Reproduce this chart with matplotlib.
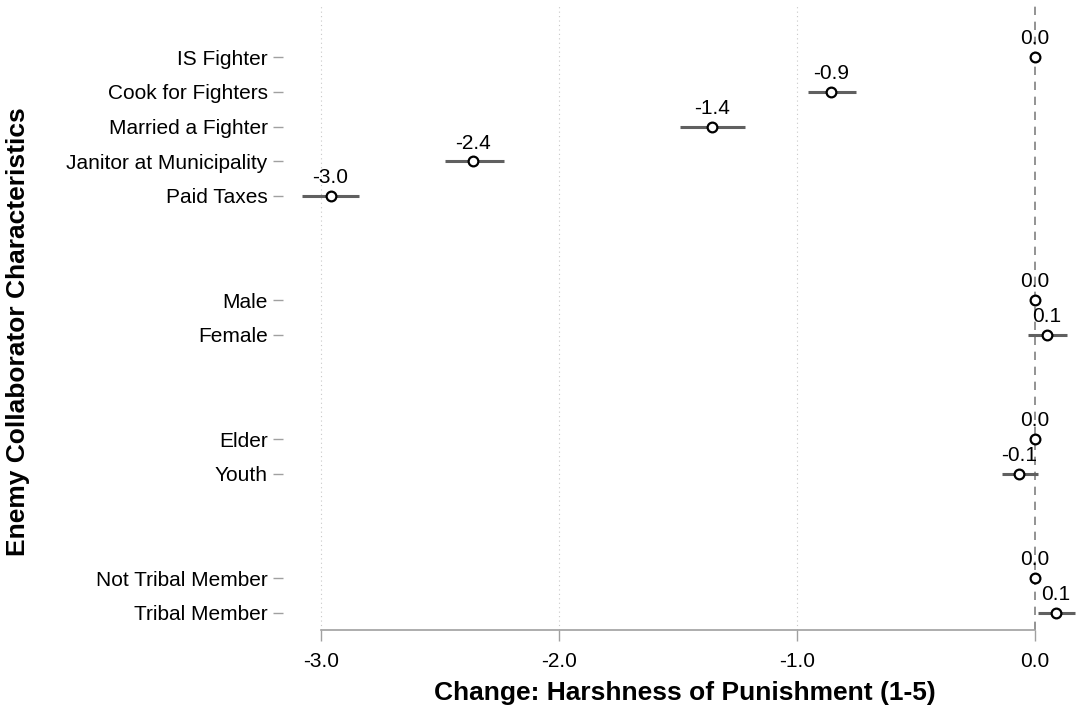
import matplotlib
matplotlib.use("Agg")
import matplotlib.pyplot as plt
import numpy as np

plt.rcParams['font.family'] = ['Liberation Sans', 'DejaVu Sans']

labels = ["IS Fighter", "Cook for Fighters", "Married a Fighter", "Janitor at Municipality",
          "Paid Taxes", "Male", "Female", "Elder", "Youth", "Not Tribal Member", "Tribal Member"]
positions = [0, 1, 2, 3, 4, 7, 8, 11, 12, 15, 16]
estimates = [0.0, -0.855, -1.355, -2.36, -2.96, 0.0, 0.05, 0.0, -0.067, 0.0, 0.088]
ci_low = [np.nan, -0.955, -1.49, -2.48, -3.08, np.nan, -0.03, np.nan, -0.14, np.nan, 0.013]
ci_high = [np.nan, -0.75, -1.22, -2.23, -2.84, np.nan, 0.135, np.nan, 0.013, np.nan, 0.17]
value_labels = ["0.0", "-0.9", "-1.4", "-2.4", "-3.0", "0.0", "0.1", "0.0", "-0.1", "0.0", "0.1"]
xticks = [-3.0, -2.0, -1.0, 0.0]
xtick_labels = ["-3.0", "-2.0", "-1.0", "0.0"]

fig = plt.figure(figsize=(10.76, 7.08), dpi=100)
ax = fig.add_axes([0.263, 0.11, 0.737, 0.883])

ax.set_xlim(-3.16, 0.173)
ax.set_ylim(16.5, -1.5)

for xt in xticks[:-1]:
    ax.axvline(xt, color="#c8c8c8", lw=0.8, ls=(0, (1, 3)), zorder=0)
ax.axvline(0, color="#808080", lw=1.2, ls=(0, (5, 4)), zorder=1)

for p, e, lo, hi, vl in zip(positions, estimates, ci_low, ci_high, value_labels):
    if not np.isnan(lo):
        ax.plot([lo, hi], [p, p], color="#606060", lw=2.2, solid_capstyle="butt", zorder=2)
    ax.plot(e, p, marker="o", ms=7, mfc="white", mec="black", mew=1.6, zorder=3)
    ax.text(e, p - 0.25, vl, ha="center", va="bottom", fontsize=15, color="black", zorder=4)

ax.set_yticks(positions)
ax.set_yticklabels(labels, fontsize=15)
ax.set_xticks(xticks)
ax.set_xticklabels(xtick_labels, fontsize=15)

for s in ["top", "right", "left"]:
    ax.spines[s].set_visible(False)
ax.spines["bottom"].set_bounds(-3.0, 0.0)
ax.spines["bottom"].set_color("#a0a0a0")
ax.spines["bottom"].set_linewidth(1.2)

ax.tick_params(axis="y", length=7, width=1, color="#a0a0a0", pad=4)
ax.tick_params(axis="x", length=8, width=1, color="#a0a0a0", pad=8)

ax.set_xlabel("Change: Harshness of Punishment (1-5)", fontsize=19, fontweight="bold")
ax.xaxis.set_label_coords(685 / 1076, 1 - 693 / 708, transform=fig.transFigure)
ax.xaxis.label.set_va("center")
ax.set_ylabel("Enemy Collaborator Characteristics", fontsize=19, fontweight="bold")
ax.yaxis.set_label_coords(18 / 1076, 1 - 332 / 708, transform=fig.transFigure)
ax.yaxis.label.set_va("center")

fig.savefig("out.png", dpi=100)
